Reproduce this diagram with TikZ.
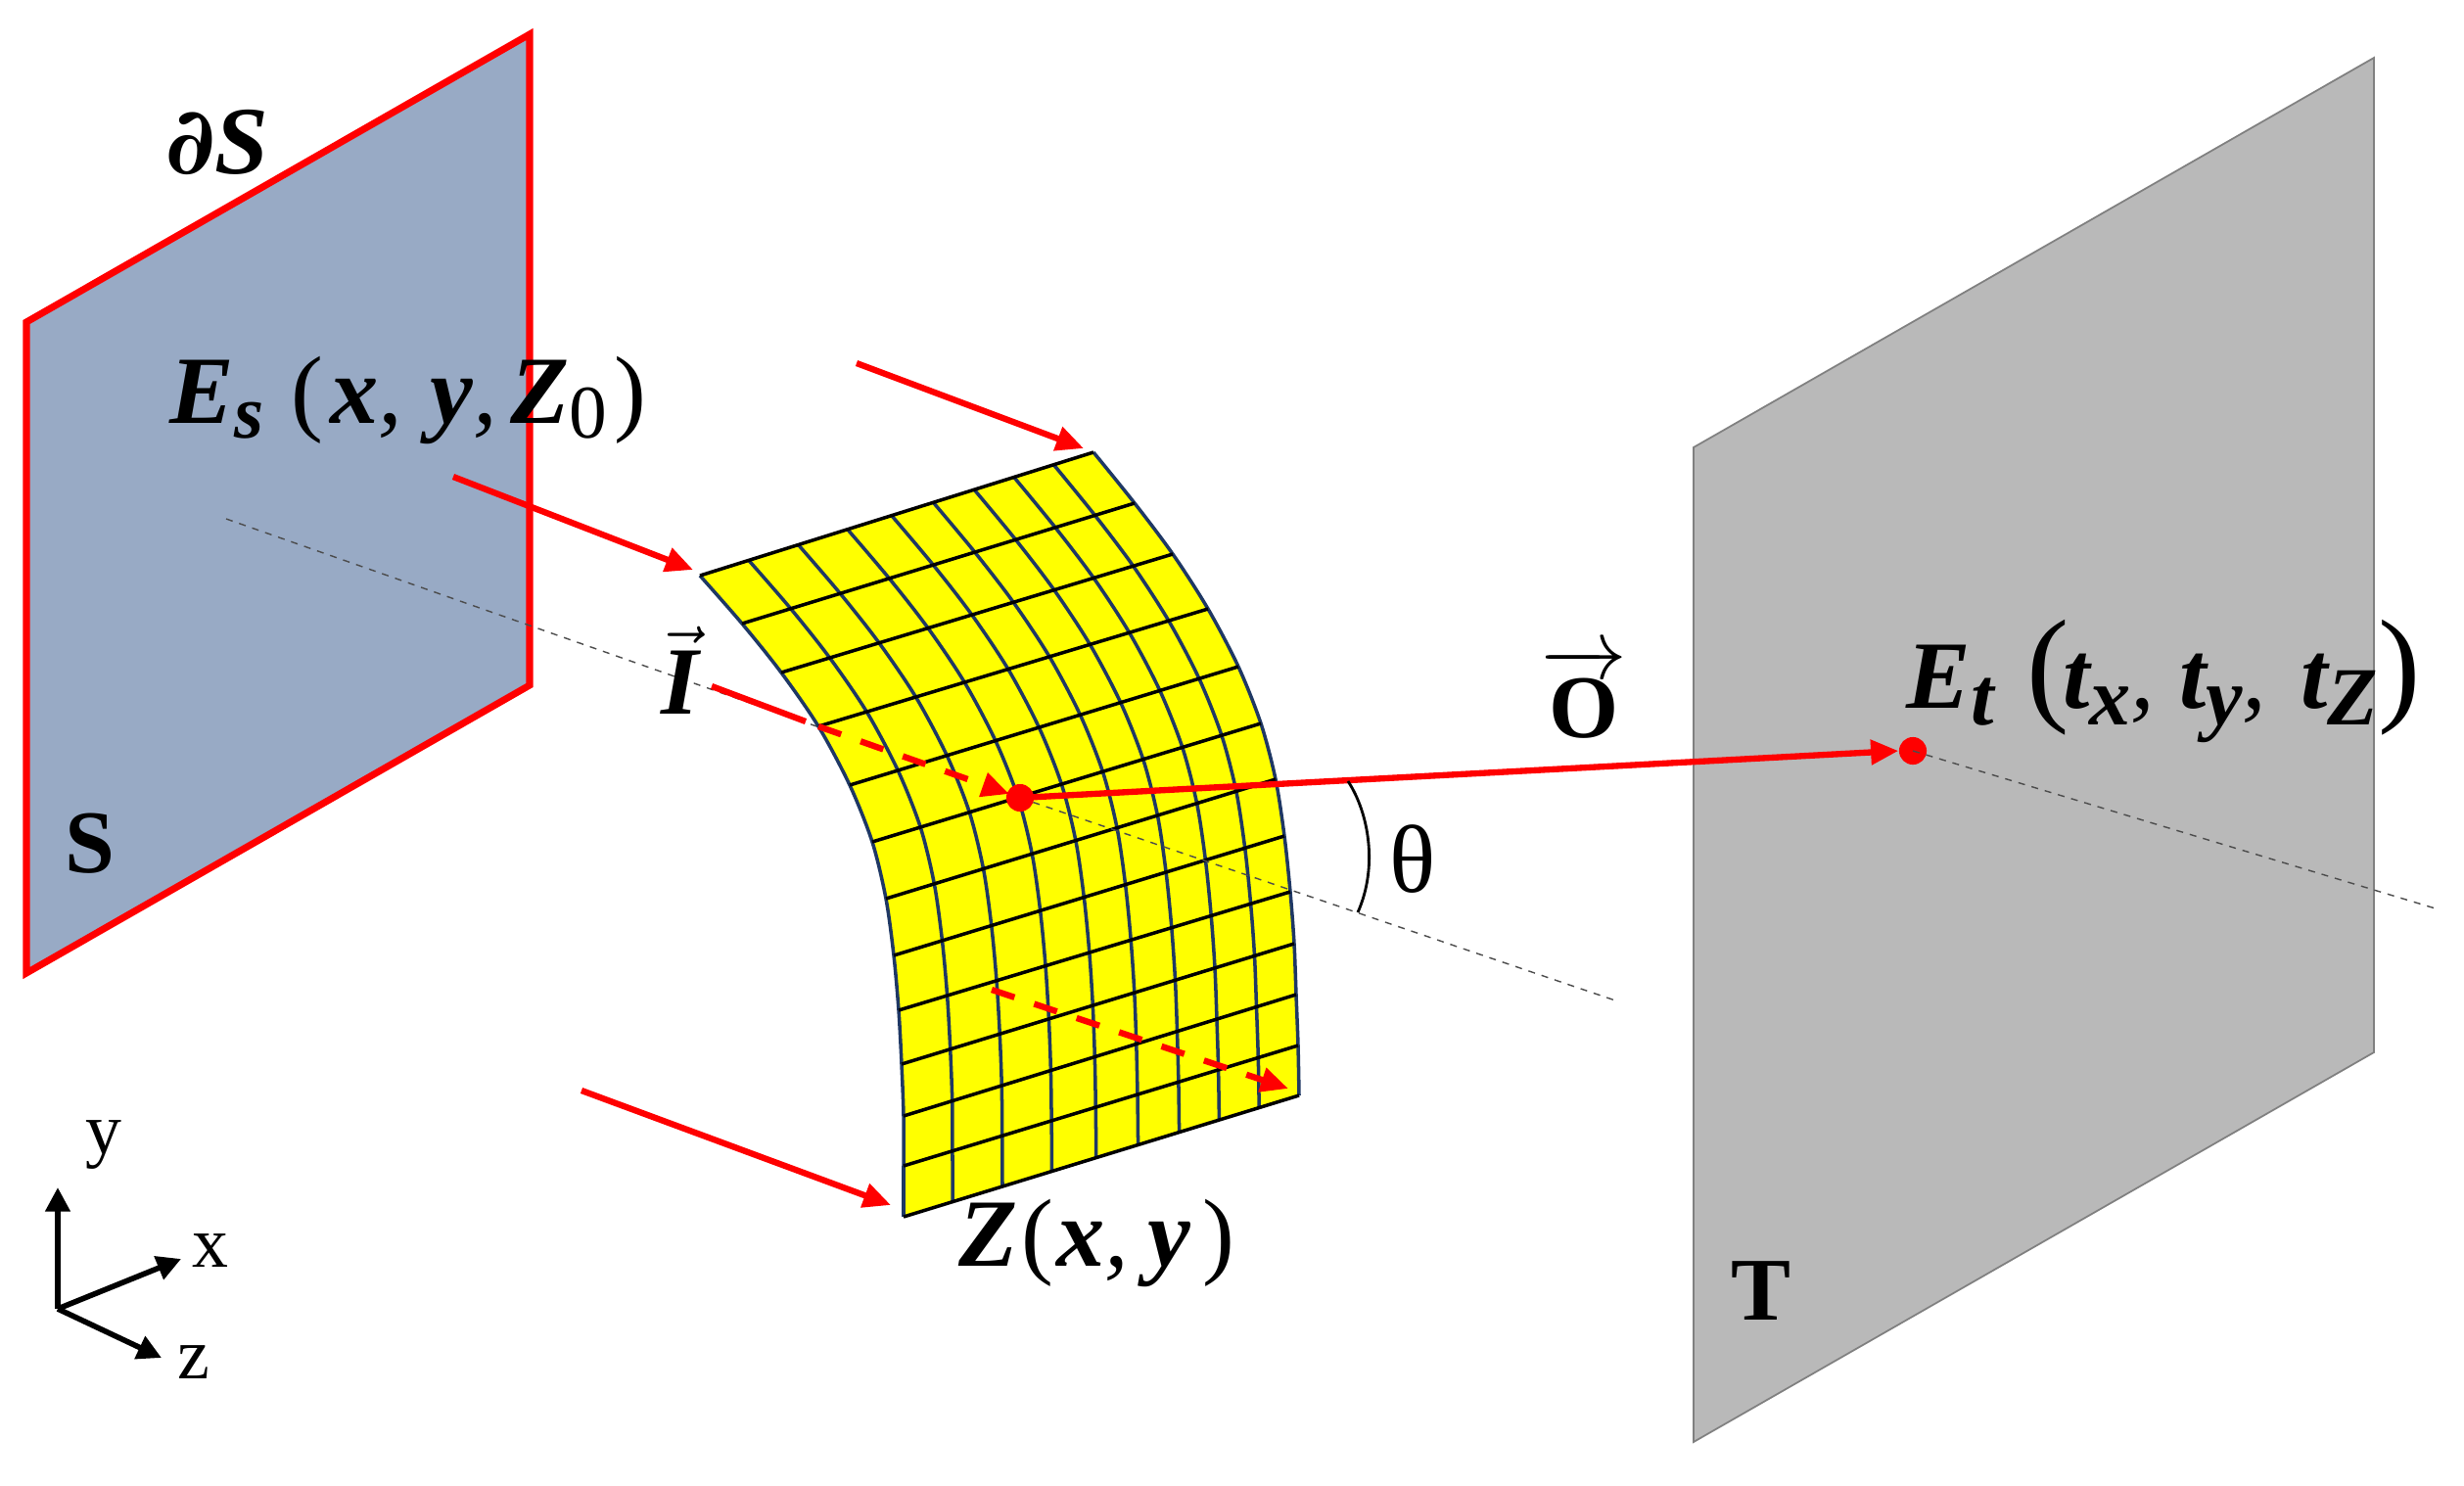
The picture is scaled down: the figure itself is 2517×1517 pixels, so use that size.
\documentclass[tikz,border=0pt]{standalone}
\usepackage{fontspec}
\setmainfont{Liberation Serif}
\newfontfamily\partialfont{DejaVu Serif}
\usepackage{amsmath}
\usetikzlibrary{arrows.meta}
\usetikzlibrary{calc}
\definecolor{slate}{HTML}{98AAC5}
\definecolor{plategray}{HTML}{B9B9B9}
\definecolor{gridnavy}{HTML}{1F3864}
\definecolor{gridyellow}{HTML}{FFFF00}
\definecolor{rayred}{HTML}{FF0000}
\tikzset{redarrow/.style={draw=rayred,line width=1.8pt,-{Triangle[length=8pt,width=7pt]}},
 reddash/.style={redarrow,dash pattern=on 7pt off 6pt},
 graydash/.style={draw=black!70,line width=0.4pt,dash pattern=on 2pt off 2pt},
 gridrow/.style={draw=black,line width=1pt},
 gridcol/.style={draw=gridnavy,line width=1pt},
 axis/.style={draw=black,line width=1.6pt,-{Triangle[length=7pt,width=7pt]}},
 reddot/.style={circle,fill=rayred,inner sep=0pt,minimum size=8pt},
 boldlabel/.style={font=\fontsize{28}{30}\selectfont\bfseries\itshape,inner sep=0pt},
 axislabel/.style={font=\fontsize{21}{22}\selectfont,inner sep=0pt},
 }
\newcommand{\lowtext}[1]{\raisebox{-4.5pt}{\fontsize{22}{22}\selectfont #1}}
\newcommand{\lowwide}[1]{\raisebox{-5pt}{\fontsize{24}{24}\selectfont #1}}
\newcommand{\thinpar}[1]{{\fontsize{28}{28}\selectfont\mdseries\upshape #1}}
\newcommand{\tallpar}[1]{{\fontsize{37}{37}\selectfont\mdseries\upshape #1}}
\newcommand{\thincomma}{{\mdseries ,}}
\begin{document}
\begin{tikzpicture}[x=0.01cm,y=-0.01cm]
        \useasboundingbox (0,0) rectangle (2517,1517);
        \fill[slate,draw=rayred,line width=2pt] (27,329) -- (541,35) -- (541,700) -- (27,994) -- cycle;
        \fill[plategray,draw=black!50,line width=0.5pt] (1730,457) -- (2425,59) -- (2425,1075) -- (1730,1473) -- cycle;
        \coordinate (axisS) at (231,530);
        \coordinate (axisHit) at (1042,815);
        \coordinate (axisMid) at (1650,1022);
        \coordinate (axisEnd) at (2491,929);
        \node[reddot] (target) at (1954,767) {};
        \draw[graydash] (axisS) -- (axisHit);
        \foreach \i/\lx/\ly/\rx/\ry in {0/715/588/1117/462,1/758/637/1159/514,2/798/687/1198/566,
            3/836/742/1234/622,4/868/802/1265/681,5/891/860/1288/739,6/905/918/1303/796,
            7/913/976/1312/854,8/918/1032/1318/911,9/921/1087/1322/964,10/923/1140/1324/1016,
            11/923/1191/1326/1068,12/923/1243/1327/1119}{
            \coordinate (l\i) at (\lx,\ly);
            \coordinate (r\i) at (\rx,\ry);
        }
        \fill[gridyellow] (l0) \foreach \i in {1,...,12}{-- (l\i)} \foreach \i in {12,...,0}{-- (r\i)} -- cycle;
        \foreach \j/\f in {0/0,1/.124,2/.25,3/.375,4/.487,5/.593,6/.697,7/.798,8/.899,9/1}{
            \foreach \i in {0,...,12}{\coordinate (g\i-\j) at ($(l\i)!\f!(r\i)$);}
            \draw[gridcol] plot[smooth] coordinates {(g0-\j) (g1-\j) (g2-\j) (g3-\j) (g4-\j) (g5-\j) (g6-\j)
                (g7-\j) (g8-\j) (g9-\j) (g10-\j) (g11-\j) (g12-\j)};
        }
        \foreach \i in {0,...,12}{\draw[gridrow] (l\i) -- (r\i);}
        \draw[graydash] (axisHit) -- (axisMid);
        \draw[graydash] (target.center) -- (axisEnd);
        \node[reddot] (hit) at (axisHit) {};
        \coordinate (rayTopA) at (875,371);
        \coordinate (rayTopB) at (1107,458);
        \coordinate (rayMidA) at (463,487);
        \coordinate (rayMidB) at (708,582);
        \coordinate (rayLowA) at (594,1114);
        \coordinate (rayLowB) at (910,1231);
        \coordinate (inA) at (727,701);
        \coordinate (inB) at (823,737);
        \coordinate (inC) at (836,742);
        \coordinate (inD) at (1031,811);
        \coordinate (backA) at (1013,1011);
        \coordinate (backB) at (1316,1112);
        \draw[redarrow] (rayTopA) -- (rayTopB);
        \draw[redarrow] (rayMidA) -- (rayMidB);
        \draw[redarrow] (rayLowA) -- (rayLowB);
        \draw[draw=rayred,line width=1.8pt] (inA) -- (inB);
        \draw[reddash] (inC) -- (inD);
        \draw[reddash] (backA) -- (backB);
        \draw[redarrow] (hit.center) -- (target.west);
        \coordinate (arcA) at (1377,798);
        \coordinate (arcB) at (1387,932);
        \draw[line width=0.8pt] (arcA) .. controls (1398,830) and (1408,885) .. (arcB);
        \coordinate (origin) at (59,1337);
        \coordinate (tipY) at (59,1213);
        \coordinate (tipX) at (185,1286);
        \coordinate (tipZ) at (165,1387);
        \draw[axis] (origin) -- (tipY);
        \draw[axis] (origin) -- (tipX);
        \draw[axis] (origin) -- (tipZ);
        \node[axislabel] (labelY) at (106,1170) {y};
        \node[axislabel] (labelX) at (215,1278) {x};
        \node[axislabel] (labelZ) at (198,1392) {z};
        \node[boldlabel] (labelBoundary) at (222,145) {{\partialfont\fontsize{27}{27}\selectfont ∂}S};
        \node[boldlabel,anchor=base west] (labelEs) at (173,432) {E\lowtext{s}\hspace{8pt}\thinpar{(}\hspace{2pt}x\thincomma\hspace{8pt}y\thincomma\hspace{4pt}Z\lowtext{\upshape\mdseries 0}\hspace{2pt}\thinpar{)}};
        \node[boldlabel,anchor=base west] (labelEt) at (1947,723) {E\lowwide{t}\hspace{9.7pt}\tallpar{(}\hspace{-2pt}t\lowwide{x}\thincomma\hspace{7pt}t\lowwide{y}\thincomma\hspace{10pt}t\lowwide{Z}\hspace{0pt}\tallpar{)}};
        \node[boldlabel,anchor=base west] (labelZxy) at (979,1293) {Z\hspace{1pt}\thinpar{(}\hspace{1pt}x\thincomma\hspace{5.5pt}y\hspace{3.5pt}\thinpar{)}};
        \node[boldlabel,font=\fontsize{26}{28}\selectfont\bfseries] (labelS) at (92,862) {S};
        \node[boldlabel,font=\fontsize{26}{28}\selectfont\bfseries] (labelT) at (1799,1319) {T};
        \node[boldlabel] (labelI) at (695,685) {$\vec{\mbox{\bfseries\itshape I}}$};
        \node[boldlabel,font=\fontsize{26}{28}\selectfont\bfseries] (labelO) at (1618,708) {$\overrightarrow{\mbox{\bfseries O}}$};
        \node[axislabel,font=\fontsize{28}{30}\selectfont] (labelTheta) at (1443,878) {θ};
    \end{tikzpicture}
\end{document}
